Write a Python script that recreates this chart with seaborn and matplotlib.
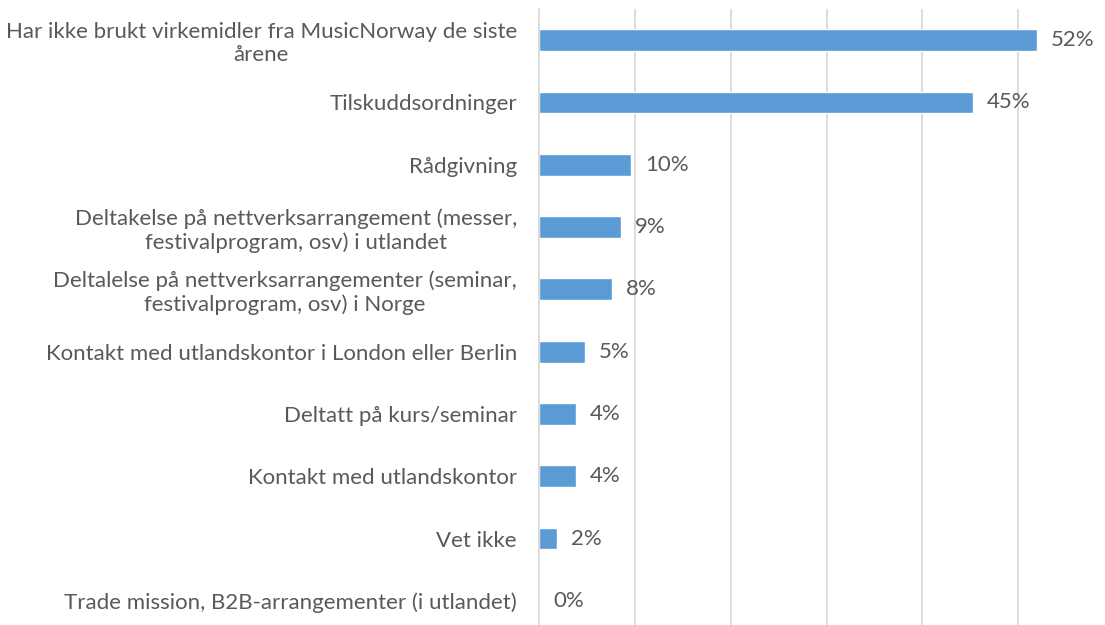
import pandas as pd
import matplotlib.pyplot as plt
import seaborn as sns

# data
categories = [
    "Har ikke brukt virkemidler fra MusicNorway de siste\nårene",
    "Tilskuddsordninger",
    "Rådgivning",
    "Deltakelse på nettverksarrangement (messer,\nfestivalprogram, osv) i utlandet",
    "Deltalelse på nettverksarrangementer (seminar,\nfestivalprogram, osv) i Norge",
    "Kontakt med utlandskontor i London eller Berlin",
    "Deltatt på kurs/seminar",
    "Kontakt med utlandskontor",
    "Vet ikke",
    "Trade mission, B2B-arrangementer (i utlandet)",
]
shares = [0.52, 0.453, 0.096, 0.086, 0.076, 0.048, 0.039, 0.039, 0.019, 0.0]
value_labels = ["52%", "45%", "10%", "9%", "8%", "5%", "4%", "4%", "2%", "0%"]

df = pd.DataFrame({"Kategori": categories, "Andel": shares})

sns.set_theme(style="white")
plt.rcParams["font.family"] = ["Lato", "DejaVu Sans"]
text_color = "#595959"

fig = plt.figure(figsize=(11.05, 6.25), dpi=100)
ax = fig.add_axes([539 / 1105, -7 / 625, 575 / 1105, 623 / 625])

sns.barplot(data=df, x="Andel", y="Kategori", color="#5B9BD5", width=0.35,
            saturation=1, ax=ax)

ax.set_xlim(0, 0.6)
ax.set_xticks([0.1, 0.2, 0.3, 0.4, 0.5])
ax.grid(axis="x", color="#D9D9D9", linewidth=1.3)
ax.set_axisbelow(True)
for side in ["top", "right", "bottom"]:
    ax.spines[side].set_visible(False)
ax.spines["left"].set_color("#D9D9D9")
ax.spines["left"].set_linewidth(1.3)
ax.set_xlabel("")
ax.set_ylabel("")
ax.tick_params(axis="x", labelbottom=False, length=0)
ax.tick_params(axis="y", length=0, pad=16, labelsize=16, labelcolor=text_color)
# wrapped labels: lines centred on each other, block right-aligned
for lbl in ax.get_yticklabels():
    lbl.set_multialignment("center")
    lbl.set_horizontalalignment("right")

for i, (v, t) in enumerate(zip(shares, value_labels)):
    ax.annotate(t, (v, i), xytext=(10, 0), textcoords="offset points",
                va="center", ha="left", fontsize=16, color=text_color)

fig.savefig("out.png", dpi=100)
